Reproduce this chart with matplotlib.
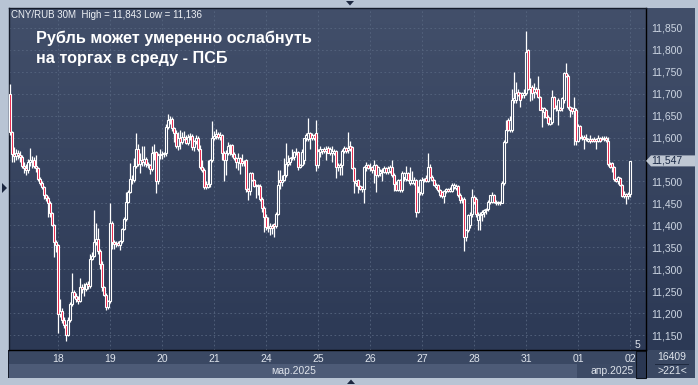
import numpy as np
import matplotlib.pyplot as plt
from matplotlib.colors import LinearSegmentedColormap
from matplotlib.patches import Rectangle, Polygon
from matplotlib.transforms import blended_transform_factory

plt.rcParams["font.family"] = ["Liberation Sans", "DejaVu Sans"]

# CNY/RUB, 30-minute candles, 17 Mar - 02 Apr 2025 (prices in thousandths of a ruble)
day_labels = ["18", "19", "20", "21", "24", "25", "26", "27", "28", "31", "01", "02"]
day_sizes = [24, 26, 26, 26, 26, 26, 26, 26, 26, 26, 26, 26, 1]  # candles per day, 17th first
months = ["мар.2025", "апр.2025"]
y_ticks = [11150, 11200, 11250, 11300, 11350, 11400, 11450, 11500,
           11550, 11600, 11650, 11700, 11750, 11800, 11850]
last_price = 11547
title = "Рубль может умеренно ослабнуть\nна торгах в среду - ПСБ"
header = "CNY/RUB 30M  High = 11,843 Low = 11,136"

opens = [
    # 17
    11700, 11612, 11563, 11558, 11566, 11560, 11555, 11535, 11530, 11527, 11545, 11550, 11548, 11536, 11530, 11506, 11497, 11487, 11470, 11462, 11452, 11428, 11401, 11361,
    # 18
    11355, 11199, 11205, 11184, 11173, 11151, 11184, 11220, 11249, 11240, 11233, 11228, 11260, 11256, 11254, 11266, 11262, 11324, 11330, 11362, 11368, 11341, 11313, 11260, 11241, 11214,
    # 19
    11227, 11406, 11362, 11358, 11360, 11356, 11364, 11391, 11415, 11453, 11476, 11506, 11503, 11535, 11574, 11540, 11550, 11545, 11552, 11540, 11537, 11528, 11565, 11568, 11500, 11560,
    # 20
    11562, 11563, 11566, 11625, 11640, 11642, 11622, 11610, 11580, 11600, 11590, 11602, 11598, 11588, 11602, 11604, 11578, 11592, 11600, 11573, 11532, 11526, 11495, 11488, 11495, 11549,
    # 21
    11600, 11604, 11608, 11601, 11606, 11565, 11548, 11566, 11582, 11584, 11562, 11553, 11545, 11553, 11547, 11542, 11550, 11482, 11478, 11519, 11503, 11490, 11493, 11490, 11461, 11440,
    # 24
    11419, 11396, 11394, 11398, 11403, 11399, 11427, 11504, 11498, 11504, 11515, 11541, 11545, 11553, 11556, 11565, 11568, 11534, 11538, 11550, 11599, 11596, 11610, 11599, 11606, 11610,
    # 25
    11538, 11568, 11570, 11573, 11569, 11577, 11566, 11566, 11566, 11569, 11534, 11534, 11538, 11569, 11576, 11572, 11580, 11578, 11530, 11496, 11503, 11490, 11482, 11484, 11534, 11538,
    # 26
    11530, 11534, 11527, 11538, 11515, 11520, 11523, 11522, 11530, 11522, 11525, 11532, 11515, 11495, 11481, 11503, 11480, 11510, 11505, 11519, 11497, 11497, 11497, 11503, 11431, 11475,
    # 27
    11473, 11503, 11507, 11502, 11532, 11511, 11503, 11488, 11492, 11480, 11475, 11467, 11479, 11482, 11479, 11479, 11488, 11485, 11490, 11469, 11458, 11461, 11373, 11389, 11400, 11427,
    # 28
    11465, 11461, 11412, 11423, 11427, 11431, 11435, 11438, 11454, 11454, 11469, 11450, 11450, 11450, 11452, 11496, 11591, 11640, 11617, 11617, 11686, 11686, 11705, 11701, 11697, 11697,
    # 31
    11701, 11800, 11712, 11716, 11705, 11712, 11712, 11692, 11668, 11659, 11663, 11648, 11632, 11636, 11693, 11670, 11663, 11667, 11667, 11686, 11748, 11741, 11669, 11667, 11661, 11664,
    # 01
    11593, 11626, 11599, 11602, 11596, 11593, 11598, 11596, 11598, 11598, 11593, 11600, 11600, 11596, 11600, 11593, 11540, 11543, 11534, 11505, 11502, 11507, 11492, 11467, 11471, 11468,
    # 02
    11471,
]
highs = [
    11722, 11616, 11578, 11575, 11572, 11570, 11560, 11545, 11540, 11552, 11576, 11558, 11555, 11560, 11534, 11510, 11500, 11490, 11472, 11466, 11455, 11430, 11404, 11366,
    11358, 11233, 11212, 11190, 11176, 11190, 11225, 11292, 11252, 11245, 11238, 11280, 11266, 11268, 11270, 11272, 11335, 11340, 11436, 11406, 11395, 11345, 11318, 11262, 11245, 11230,
    11452, 11410, 11366, 11364, 11364, 11367, 11394, 11420, 11476, 11480, 11543, 11515, 11553, 11610, 11585, 11565, 11580, 11580, 11556, 11545, 11540, 11580, 11585, 11570, 11565, 11575,
    11570, 11568, 11632, 11654, 11650, 11648, 11625, 11618, 11612, 11618, 11612, 11615, 11605, 11608, 11610, 11608, 11595, 11605, 11603, 11583, 11550, 11530, 11500, 11549, 11552, 11638,
    11615, 11620, 11612, 11612, 11608, 11570, 11572, 11590, 11586, 11586, 11568, 11556, 11565, 11556, 11562, 11548, 11552, 11485, 11522, 11522, 11506, 11495, 11495, 11495, 11465, 11445,
    11425, 11420, 11405, 11402, 11406, 11430, 11526, 11526, 11515, 11553, 11587, 11560, 11556, 11575, 11570, 11577, 11570, 11540, 11575, 11600, 11611, 11645, 11614, 11611, 11608, 11641,
    11573, 11582, 11575, 11578, 11580, 11582, 11578, 11580, 11575, 11572, 11542, 11542, 11573, 11580, 11578, 11614, 11593, 11582, 11534, 11503, 11506, 11492, 11490, 11535, 11545, 11540,
    11542, 11536, 11549, 11541, 11535, 11528, 11530, 11535, 11533, 11535, 11538, 11549, 11519, 11500, 11505, 11506, 11525, 11522, 11535, 11522, 11534, 11525, 11510, 11506, 11490, 11506,
    11510, 11508, 11515, 11564, 11541, 11515, 11506, 11496, 11495, 11484, 11478, 11480, 11485, 11486, 11487, 11496, 11496, 11495, 11493, 11473, 11465, 11465, 11392, 11427, 11430, 11484,
    11470, 11465, 11430, 11430, 11435, 11438, 11440, 11458, 11470, 11476, 11472, 11458, 11456, 11456, 11500, 11595, 11640, 11645, 11650, 11712, 11750, 11728, 11710, 11704, 11705, 11710,
    11843, 11802, 11735, 11720, 11724, 11716, 11740, 11695, 11670, 11670, 11665, 11652, 11648, 11708, 11696, 11675, 11690, 11670, 11693, 11750, 11771, 11745, 11672, 11670, 11693, 11668,
    11630, 11628, 11605, 11605, 11608, 11600, 11605, 11600, 11602, 11600, 11606, 11602, 11603, 11603, 11603, 11602, 11545, 11545, 11536, 11508, 11512, 11510, 11494, 11478, 11473, 11475,
    11547,
]
lows = [
    11605, 11544, 11545, 11550, 11552, 11545, 11530, 11520, 11514, 11520, 11535, 11530, 11530, 11522, 11500, 11492, 11482, 11460, 11455, 11419, 11420, 11398, 11328, 11340,
    11154, 11190, 11178, 11165, 11136, 11148, 11180, 11215, 11235, 11225, 11220, 11225, 11245, 11240, 11250, 11255, 11258, 11320, 11328, 11355, 11335, 11300, 11250, 11238, 11208, 11210,
    11222, 11345, 11346, 11350, 11352, 11343, 11360, 11389, 11410, 11450, 11474, 11495, 11499, 11530, 11535, 11520, 11535, 11535, 11532, 11530, 11518, 11525, 11548, 11473, 11495, 11552,
    11552, 11555, 11558, 11620, 11630, 11615, 11590, 11576, 11572, 11575, 11585, 11595, 11585, 11584, 11595, 11572, 11570, 11585, 11570, 11528, 11522, 11484, 11484, 11485, 11487, 11545,
    11595, 11598, 11598, 11594, 11548, 11500, 11515, 11560, 11560, 11555, 11550, 11530, 11526, 11518, 11536, 11535, 11475, 11458, 11470, 11500, 11488, 11462, 11470, 11455, 11430, 11385,
    11390, 11385, 11377, 11380, 11374, 11395, 11424, 11484, 11490, 11500, 11510, 11535, 11538, 11549, 11550, 11560, 11527, 11530, 11535, 11540, 11592, 11592, 11575, 11595, 11595, 11525,
    11530, 11555, 11562, 11565, 11548, 11565, 11560, 11545, 11560, 11508, 11525, 11515, 11515, 11565, 11565, 11565, 11570, 11528, 11473, 11490, 11474, 11480, 11475, 11450, 11525, 11528,
    11525, 11520, 11497, 11475, 11510, 11512, 11500, 11520, 11518, 11518, 11520, 11510, 11478, 11478, 11478, 11476, 11477, 11500, 11500, 11500, 11492, 11495, 11492, 11420, 11428, 11470,
    11470, 11498, 11498, 11498, 11508, 11500, 11490, 11482, 11475, 11465, 11462, 11450, 11474, 11475, 11475, 11476, 11482, 11480, 11465, 11452, 11452, 11342, 11365, 11385, 11395, 11420,
    11448, 11420, 11390, 11390, 11410, 11420, 11425, 11432, 11448, 11450, 11450, 11446, 11446, 11446, 11450, 11492, 11588, 11615, 11612, 11612, 11680, 11680, 11695, 11670, 11690, 11690,
    11698, 11708, 11683, 11686, 11690, 11700, 11690, 11662, 11625, 11645, 11645, 11628, 11628, 11630, 11665, 11660, 11628, 11660, 11660, 11680, 11738, 11665, 11648, 11655, 11583, 11583,
    11590, 11598, 11595, 11575, 11592, 11590, 11588, 11590, 11590, 11575, 11590, 11590, 11595, 11592, 11590, 11535, 11530, 11522, 11500, 11498, 11495, 11490, 11465, 11463, 11449, 11460,
    11465,
]
closes = [
    11612, 11563, 11558, 11566, 11560, 11555, 11535, 11530, 11527, 11545, 11550, 11548, 11536, 11530, 11506, 11497, 11487, 11470, 11462, 11452, 11428, 11401, 11361, 11355,
    11199, 11205, 11184, 11173, 11151, 11184, 11220, 11249, 11240, 11233, 11228, 11260, 11256, 11254, 11266, 11262, 11324, 11330, 11362, 11368, 11341, 11313, 11260, 11241, 11214, 11227,
    11406, 11362, 11358, 11360, 11356, 11364, 11391, 11415, 11453, 11476, 11506, 11503, 11535, 11574, 11540, 11550, 11545, 11552, 11540, 11537, 11528, 11565, 11568, 11500, 11560, 11562,
    11563, 11566, 11625, 11640, 11642, 11622, 11610, 11580, 11600, 11590, 11602, 11598, 11588, 11602, 11604, 11578, 11592, 11600, 11573, 11532, 11526, 11487, 11488, 11495, 11549, 11600,
    11604, 11608, 11601, 11606, 11565, 11548, 11566, 11582, 11584, 11562, 11553, 11545, 11553, 11542, 11542, 11545, 11482, 11478, 11519, 11503, 11490, 11493, 11490, 11461, 11440, 11419,
    11396, 11394, 11398, 11393, 11399, 11427, 11492, 11498, 11504, 11515, 11541, 11545, 11553, 11556, 11568, 11568, 11534, 11538, 11568, 11599, 11606, 11610, 11599, 11606, 11599, 11538,
    11570, 11573, 11573, 11569, 11573, 11566, 11573, 11570, 11569, 11534, 11538, 11538, 11569, 11576, 11569, 11576, 11575, 11530, 11500, 11500, 11490, 11484, 11488, 11534, 11538, 11530,
    11534, 11527, 11538, 11515, 11534, 11523, 11527, 11530, 11522, 11530, 11532, 11515, 11495, 11481, 11503, 11480, 11519, 11519, 11519, 11503, 11503, 11503, 11503, 11431, 11475, 11503,
    11503, 11505, 11502, 11532, 11511, 11503, 11492, 11492, 11480, 11470, 11467, 11479, 11482, 11479, 11482, 11492, 11492, 11490, 11469, 11458, 11461, 11373, 11389, 11423, 11423, 11465,
    11454, 11427, 11423, 11427, 11431, 11435, 11438, 11454, 11469, 11469, 11454, 11454, 11454, 11454, 11496, 11591, 11617, 11617, 11640, 11686, 11690, 11701, 11697, 11686, 11701, 11701,
    11796, 11712, 11716, 11701, 11712, 11705, 11692, 11664, 11663, 11667, 11648, 11634, 11643, 11693, 11667, 11667, 11686, 11663, 11690, 11747, 11741, 11669, 11664, 11661, 11667, 11593,
    11626, 11602, 11602, 11596, 11600, 11598, 11593, 11593, 11593, 11593, 11600, 11593, 11596, 11600, 11594, 11540, 11534, 11534, 11505, 11502, 11510, 11492, 11467, 11471, 11468, 11471,
    11547,
]

W, H = 698, 385
BG_TOP, BG_BOT = "#424f6a", "#2c3955"
RED = "#e8163d"
UP_FACE = "#33405b"
GRID = "#56657f"
TXT = "#dfe4ec"


def frect(x0, y0, x1, y1, color, z=0.5, ec="none"):
    # rectangle given in pixels from the top-left corner of the picture
    fig.add_artist(Rectangle((x0 / W, 1 - y1 / H), (x1 - x0) / W, (y1 - y0) / H,
                             transform=fig.transFigure, facecolor=color,
                             edgecolor=ec, lw=0.8, zorder=z))


def ftri(pts, color="#1c2740"):
    fig.add_artist(Polygon([(x / W, 1 - y / H) for x, y in pts], closed=True,
                           transform=fig.transFigure, facecolor=color,
                           edgecolor="none", zorder=6))


def ftext(x, y, s, **kw):
    fig.text(x / W, 1 - y / H, s, zorder=6, **kw)


fig = plt.figure(figsize=(W / 100, H / 100), dpi=100)
fig.patch.set_facecolor("#b8c4d4")
bg = LinearSegmentedColormap.from_list("bg", [BG_BOT, BG_TOP])
grad = np.linspace(0, 1, 256).reshape(-1, 1)

# price scale panel
ax2 = fig.add_axes([646 / W, 1 - 350 / H, 49 / W, 342 / H])
ax2.imshow(grad, extent=[0, 1, 0, 1], transform=ax2.transAxes, origin="lower",
           aspect="auto", cmap=bg)
ax2.set_axis_off()
ax2.set_zorder(0)

ax = fig.add_axes([9 / W, 1 - 350 / H, 637 / W, 342 / H])
ax.set_zorder(1)
ax.imshow(grad, extent=[0, 1, 0, 1], transform=ax.transAxes, origin="lower",
          aspect="auto", cmap=bg, zorder=0)

o = np.array(opens)
h = np.array(highs)
l = np.array(lows)
c = np.array(closes)
x = np.arange(len(c))
up = c >= o

ax.vlines(x, l, h, color="white", lw=0.9, zorder=3)
ax.bar(x[up], (c - o)[up], bottom=o[up], width=1.1, color=UP_FACE,
       edgecolor="white", lw=0.8, zorder=4)
ax.bar(x[~up], (o - c)[~up], bottom=c[~up], width=1.1, color=RED,
       edgecolor="white", lw=0.8, zorder=4)

ax.set_xlim(-0.5, 318)
ax.set_ylim(11115.8, 11895.6)

day_starts = np.cumsum(day_sizes)[:-1]
ax.set_xticks(day_starts, day_labels)
ax.yaxis.tick_right()
ax.set_yticks(y_ticks, ["" if v == 11550 else f"{v:,}" for v in y_ticks])
ax.tick_params(axis="x", length=0, pad=3, labelsize=7.5, labelcolor=TXT)
ax.tick_params(axis="y", length=0, pad=4, labelsize=7.5, labelcolor="#ccd5e2")
ax.grid(True, color=GRID, lw=0.6, ls=(0, (2, 3)))
for side in ["right", "bottom"]:
    ax.spines[side].set_color("black")
    ax.spines[side].set_linewidth(1.0)
for side in ["top", "left"]:
    ax.spines[side].set_color("#141b2a")
    ax.spines[side].set_linewidth(1.0)

# time scale strips
frect(8, 350, 646, 364, "#3a4863")
frect(8, 364, 577, 377.5, "#4d5b77")
frect(577, 364, 636, 377.5, "#3c4a65")
frect(636, 351, 646, 377.5, "#2a3752", ec="#10151f")
frect(646, 350, 695, 377.5, "#3a4863")
frect(8, 350, 9.2, 378, "#151c2b")
frect(645.5, 350, 646.6, 378, "#000000")
frect(655, 363.5, 689, 364.6, "#1f2a40", z=0.6)

trans = blended_transform_factory(ax.transData, fig.transFigure)
ax.text((-0.5 + day_starts[10]) / 2, 1 - 371 / H, months[0], transform=trans,
        ha="center", va="center", fontsize=7.5, color=TXT, clip_on=False)
ax.text(day_starts[10] + 17, 1 - 371 / H, months[1], transform=trans,
        ha="center", va="center", fontsize=7.5, color=TXT, clip_on=False)

ftext(672, 357, "16409", ha="center", va="center", fontsize=7.5, color=TXT)
ftext(672, 371, ">221<", ha="center", va="center", fontsize=7.5, color=TXT)
ftext(637.5, 345, "5", ha="center", va="center", fontsize=7.5, color=TXT)

# last price marker
yp = 28 + (11850 - last_price) / 50 * 21.93
fig.add_artist(Polygon([(646 / W, 1 - yp / H), (651 / W, 1 - (yp - 5.5) / H),
                        (695 / W, 1 - (yp - 5.5) / H), (695 / W, 1 - (yp + 5.5) / H),
                        (651 / W, 1 - (yp + 5.5) / H)], closed=True,
                       transform=fig.transFigure, facecolor="#bfc7d3",
                       edgecolor="none", zorder=6))
ftext(651, yp, f"{last_price:,}", ha="left", va="center", fontsize=7.5, color="#1a2946")

# captions
ftext(11, 15, header, ha="left", va="center", fontsize=7, color="#eef1f5")
for k, line in enumerate(title.split("\n")):
    ftext(36, 43.5 + 20 * k, line, ha="left", va="baseline", fontsize=11.7,
          fontweight="bold", color="white")

# small scroll arrows on the frame
ftri([(346, 1), (354, 1), (350, 5.5)])
ftri([(347, 384), (355, 384), (351, 379.5)])
ftri([(2, 183), (2, 193), (7, 188)])

fig.savefig("out.png", dpi=100, facecolor=fig.get_facecolor())
